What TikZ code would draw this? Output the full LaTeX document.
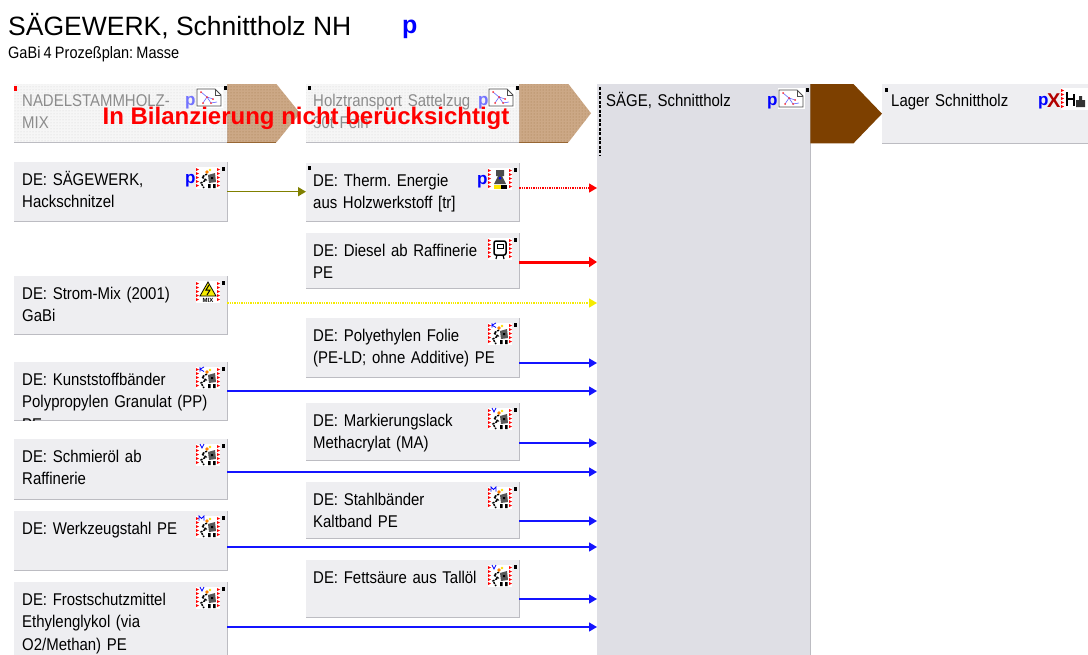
\documentclass[tikz,border=0pt]{standalone}
\usepackage{fontspec}
\setmainfont{Liberation Sans}
\newfontfamily\boxfont[FakeStretch=0.88,WordSpace=0.8]{Liberation Sans}
\usetikzlibrary{arrows.meta,patterns}
\frenchspacing

\definecolor{boxgrey}{RGB}{238,238,241}
\definecolor{saegegrey}{RGB}{223,223,229}
\definecolor{kantegrey}{RGB}{188,188,194}
\definecolor{holzbraun}{RGB}{125,64,0}
\definecolor{holzhell}{RGB}{204,168,134}
\definecolor{olivgruen}{RGB}{128,128,0}
\definecolor{pfeilblau}{RGB}{20,20,255}
\definecolor{textgrau}{RGB}{140,140,140}
\definecolor{stromgelb}{RGB}{245,235,0}

\newcommand{\kante}[1]{\draw[kantegrey, line width=1pt] (#1.north east) -- (#1.south east) -- (#1.south west);}
\newcommand{\marke}[2]{\fill (#1,#2) rectangle ++(2.5,4);}
\newcommand{\seitenrot}{%
  \foreach \k in {0,...,4}{
    \fill[red] (0,1+4*\k) -- (3,2.5+4*\k) -- (0,4+4*\k) -- cycle;
    \fill[red] (21,1+4*\k) -- (24,2.5+4*\k) -- (21,4+4*\k) -- cycle;
  }}
\newcommand{\prozessicon}[3]{%
  \begin{scope}[shift={(#1,#2)}]
    \fill[white] (0,0) rectangle (24,22);
    \seitenrot
    \draw[line width=1.5pt, dash pattern=on 2pt off 1pt] (11,7) -- (6,10) -- (10,13) -- (5,16) -- (8,21);
    \fill[gray!70!black] (12,8) -- (19,6) -- (20,15) -- (13,16) -- cycle;
    \fill (12,17) rectangle (14.5,21) (17,17) rectangle (19.5,21) (15,10) rectangle (17,12);
    \fill[orange] (11,5) circle (1.8pt);
    \fill[yellow!80!orange] (14,3) circle (1.3pt);
    #3
  \end{scope}}
\newcommand{\planicon}[2]{%
  \begin{scope}[shift={(#1,#2)}]
    \fill[white] (0,0) rectangle (27,21);
    \draw[gray!60!black, line width=0.8pt] (1,2) -- (19,2) -- (25,8) -- (25,19) -- (1,19) -- cycle;
    \draw[gray!60!black, line width=0.6pt] (19,2) -- (19,8) -- (25,8);
    \draw[blue!60, line width=0.6pt] (5,5) -- (11,10) -- (17,12) (11,10) -- (7,16) (11,10) -- (15,16) -- (21,15);
    \fill[red!80] (5,5) circle (1pt) (17,12) circle (1pt) (7,16) circle (1pt) (15,16) circle (1pt) (11,10) circle (1pt);
  \end{scope}}

\begin{document}
\begin{tikzpicture}[x=1pt, y=-1pt,
  box/.style={fill=boxgrey, anchor=north west, inner sep=0pt, minimum width=213pt},
  boxtext/.style={anchor=base west, inner sep=0pt, text width=205pt, align=left,
    font=\boxfont\fontsize{17}{22.5}\selectfont},
  fluss/.style={pfeilblau, line width=1.3pt, -{Triangle[length=8pt,width=9pt]}},
  pmark/.style={anchor=base west, inner sep=0pt, text=blue, font=\bfseries\fontsize{17}{17}\selectfont}]

\useasboundingbox[fill=white] (0,0) rectangle (1088,654);

\node[anchor=base west, inner sep=0pt, font=\fontsize{26.5}{26.5}\selectfont] (titel) at (8,35) {SÄGEWERK, Schnittholz NH};
\node[pmark, font=\bfseries\fontsize{25}{25}\selectfont] (titelp) at (402,33) {p};
\node[anchor=base west, inner sep=0pt, font=\boxfont\fontsize{16.5}{16.5}\selectfont] (untertitel) at (8,58) {GaBi 4 Prozeßplan: Masse};

\node[box, minimum height=58pt, fill=gray!7] (nadel) at (14,84) {};
\node[box, minimum height=58pt, fill=gray!7] (holz) at (306,84) {};
\node[box, fill=saegegrey, minimum height=590pt] (saege) at (597,84) {};
\node[box, minimum width=220pt, minimum height=59pt] (lager) at (882,84) {};
\fill[pattern=dots, pattern color=gray!35] (nadel.north west) rectangle (nadel.south east);
\fill[pattern=dots, pattern color=gray!35] (holz.north west) rectangle (holz.south east);
\kante{nadel}
\kante{holz}
\draw[kantegrey, line width=1pt] (saege.north east) -- (saege.south east);
\draw[kantegrey, line width=1pt] (lager.south west) -- (lager.south east);

\foreach \von/\nach in {nadel/holz, holz/saege}{
  \fill[holzhell] (\von.north east) -- ++(49,0) -- ([xshift=-6pt]\nach.west |- \von.east)
    -- ([xshift=49pt]\von.south east) -- (\von.south east) -- cycle;
  \fill[pattern=dots, pattern color=holzbraun!70] (\von.north east) -- ++(49,0)
    -- ([xshift=-6pt]\nach.west |- \von.east) -- ([xshift=49pt]\von.south east) -- (\von.south east) -- cycle;
  \draw[holzbraun!80, line width=1pt] (\von.south east) -- ++(49,0);
}
\fill[holzbraun] (saege.north east) -- ++(43,0) -- (lager.west)
  -- ([xshift=43pt]saege.east |- lager.south) -- (saege.east |- lager.south) -- cycle;
\draw[line width=2.5pt, dash pattern=on 3pt off 1.5pt] ([xshift=3pt,yshift=-3pt]saege.north west) -- ++(0,68);

\node[boxtext, text=textgrau] (nadel-t) at (22,106) {NADELSTAMMHOLZ-\\MIX};
\node[boxtext, text=textgrau] (holz-t) at (313,106) {Holztransport Sattelzug\\30t Fein};
\node[boxtext] (saege-t) at (606,106) {SÄGE, Schnittholz};
\node[boxtext] (lager-t) at (891,106) {Lager Schnittholz};
\fill[red] (14,86) rectangle ++(2.5,5);
\marke{308}{86}
\marke{885}{88}
\node[pmark, text=blue!55] (nadel-p) at (185,105) {p};
\node[pmark, text=blue!55] (holz-p) at (478,105) {p};
\node[pmark] (saege-p) at (767,105) {p};
\node[pmark] (lager-p) at (1038,105) {p};
\planicon{196}{87}
\planicon{488}{87}
\planicon{778}{88}
\marke{224}{86}
\marke{516}{86}
\marke{806}{88}
\node[anchor=base west, inner sep=0pt, text=red!70!black, font=\bfseries\fontsize{20}{20}\selectfont] (lager-x) at (1047,107) {X};
\begin{scope}[shift={(1061,88)}]
  \fill[white] (0,0) rectangle (28,22);
  \foreach \k in {0,...,4}{\fill[red] (0,1+4*\k) -- (3,2.5+4*\k) -- (0,4+4*\k) -- cycle;}
  \draw[line width=1.5pt] (6,4) -- (6,18) (6,11) -- (13,11) (13,6) -- (13,18);
  \fill[gray!40!black] (15,12) rectangle (24,19) (18,8) rectangle (21,12);
\end{scope}

\node[box, minimum height=59pt] (hack) at (14,162) {};
\node[box, minimum height=58pt] (strom) at (14,276) {};
\node[box, minimum height=58pt] (kunst) at (14,362) {};
\node[box, minimum height=60pt] (schmier) at (14,439) {};
\node[box, minimum height=59pt] (werk) at (14,511) {};
\node[box, minimum height=80pt] (frost) at (14,582) {};
\node[box, minimum height=58pt] (therm) at (306,163) {};
\node[box, minimum height=55pt] (diesel) at (306,233) {};
\node[box, minimum height=59pt] (poly) at (306,318) {};
\node[box, minimum height=57pt] (mark) at (306,403) {};
\node[box, minimum height=56pt] (stahl) at (306,482) {};
\node[box, minimum height=57pt] (fett) at (306,560) {};
\foreach \n in {hack,strom,kunst,schmier,werk,frost,therm,diesel,poly,mark,stahl,fett}{\kante{\n}}

\node[boxtext] (hack-t) at (22,185) {DE: SÄGEWERK,\\Hackschnitzel};
\node[boxtext] (strom-t) at (22,299) {DE: Strom-Mix (2001)\\GaBi};
\begin{scope}
  \clip (kunst.north west) rectangle (kunst.south east);
  \node[boxtext] (kunst-t) at (22,385) {DE: Kunststoffbänder\\Polypropylen Granulat (PP)\\PE};
\end{scope}
\node[boxtext] (schmier-t) at (22,462) {DE: Schmieröl ab\\Raffinerie};
\node[boxtext] (werk-t) at (22,534) {DE: Werkzeugstahl PE};
\node[boxtext] (frost-t) at (22,605) {DE: Frostschutzmittel\\Ethylenglykol (via\\O2/Methan) PE};
\node[boxtext] (therm-t) at (313,186) {DE: Therm. Energie\\aus Holzwerkstoff [tr]};
\node[boxtext] (diesel-t) at (313,256) {DE: Diesel ab Raffinerie\\PE};
\node[boxtext] (poly-t) at (313,341) {DE: Polyethylen Folie\\(PE-LD; ohne Additive) PE};
\node[boxtext] (mark-t) at (313,426) {DE: Markierungslack\\Methacrylat (MA)};
\node[boxtext] (stahl-t) at (313,505) {DE: Stahlbänder\\Kaltband PE};
\node[boxtext] (fett-t) at (313,583) {DE: Fettsäure aus Tallöl};

\node[pmark] (hack-p) at (185,183) {p};
\node[pmark] (therm-p) at (477,184) {p};
\prozessicon{196}{167}{}
\prozessicon{196}{367}{\draw[blue, line width=0.8pt] (4,0) -- (4,4.5) (8,0) -- (4,2.2) -- (8,4.5);}
\prozessicon{196}{444}{\draw[blue, line width=0.8pt] (4,0) -- (6,4) -- (8,0);}
\prozessicon{196}{516}{\draw[blue, line width=0.8pt] (3,4.5) -- (3,0) -- (5.5,2.5) -- (8,0) -- (8,4.5);}
\prozessicon{196}{587}{\draw[blue, line width=0.8pt] (4,0) -- (6,4) -- (8,0);}
\prozessicon{488}{323}{\draw[blue, line width=0.8pt] (4,0) -- (4,4.5) (8,0) -- (4,2.2) -- (8,4.5);}
\prozessicon{488}{408}{\draw[blue, line width=0.8pt] (4,0) -- (6,4) -- (8,0);}
\prozessicon{488}{487}{\draw[blue, line width=0.8pt] (3,4.5) -- (3,0) -- (5.5,2.5) -- (8,0) -- (8,4.5);}
\prozessicon{488}{565}{\draw[blue, line width=0.8pt] (4,0) -- (6,4) -- (8,0);}
\begin{scope}[shift={(196,281)}]
  \fill[white] (0,0) rectangle (24,22);
  \seitenrot
  \fill[stromgelb, draw=black, line width=0.8pt] (12,1) -- (20,15) -- (4,15) -- cycle;
  \draw[line width=1pt] (13,4) -- (10,9) -- (14,9) -- (11,14);
  \node[inner sep=0pt, font=\bfseries\fontsize{6}{6}\selectfont] (strom-mix) at (12,19) {MIX};
\end{scope}
\begin{scope}[shift={(488,168)}]
  \fill[white] (0,0) rectangle (24,22);
  \seitenrot
  \fill[gray!60!black] (8,2) rectangle (16,8) (10,8) -- (14,8) -- (18,16) -- (6,16) -- cycle;
  \fill[blue] (12,10) circle (1.5pt);
  \fill[yellow!90!orange] (6,17) rectangle (13,21);
  \fill[black] (13,17) rectangle (19,21);
\end{scope}
\begin{scope}[shift={(488,238)}]
  \fill[white] (0,0) rectangle (24,22);
  \seitenrot
  \draw[line width=1.5pt, rounded corners=2pt] (6,3) rectangle (18,17);
  \draw[line width=1pt] (9,6) rectangle (15,10);
  \draw[line width=1.2pt] (9,17) -- (8,21) (15,17) -- (16,21);
\end{scope}
\foreach \x/\y in {222/167, 222/281, 222/367, 222/444, 222/516, 222/587,
  514/168, 514/238, 514/323, 514/408, 514/487, 514/565}{\marke{\x}{\y}}
\marke{308}{166}

\draw[olivgruen, line width=1.5pt, -{Triangle[length=8pt,width=9pt]}] (hack.east) -- (therm.west |- hack.east);
\draw[red, line width=1.3pt, densely dotted, -{Triangle[length=8pt,width=9pt]}] (therm.east |- 0,188) -- (saege.west |- 0,188);
\draw[red, line width=3pt, -{Triangle[length=8pt,width=10pt]}] (diesel.east |- 0,262) -- (saege.west |- 0,262);
\draw[stromgelb, line width=1.3pt, densely dotted, -{Triangle[length=8pt,width=9pt]}] (strom.east |- 0,303) -- (saege.west |- 0,303);
\draw[fluss] (poly.east |- 0,363) -- (saege.west |- 0,363);
\draw[fluss] (kunst.east |- 0,391) -- (saege.west |- 0,391);
\draw[fluss] (mark.east |- 0,443) -- (saege.west |- 0,443);
\draw[fluss] (schmier.east |- 0,472) -- (saege.west |- 0,472);
\draw[fluss] (stahl.east |- 0,521) -- (saege.west |- 0,521);
\draw[fluss] (werk.east |- 0,547) -- (saege.west |- 0,547);
\draw[fluss] (fett.east |- 0,599) -- (saege.west |- 0,599);
\draw[fluss] (frost.east |- 0,627) -- (saege.west |- 0,627);

\node[text=red, font=\bfseries\fontsize{24}{24}\selectfont, inner sep=0pt] (hinweis) at (306,118) {In Bilanzierung nicht berücksichtigt};
\end{tikzpicture}
\end{document}
